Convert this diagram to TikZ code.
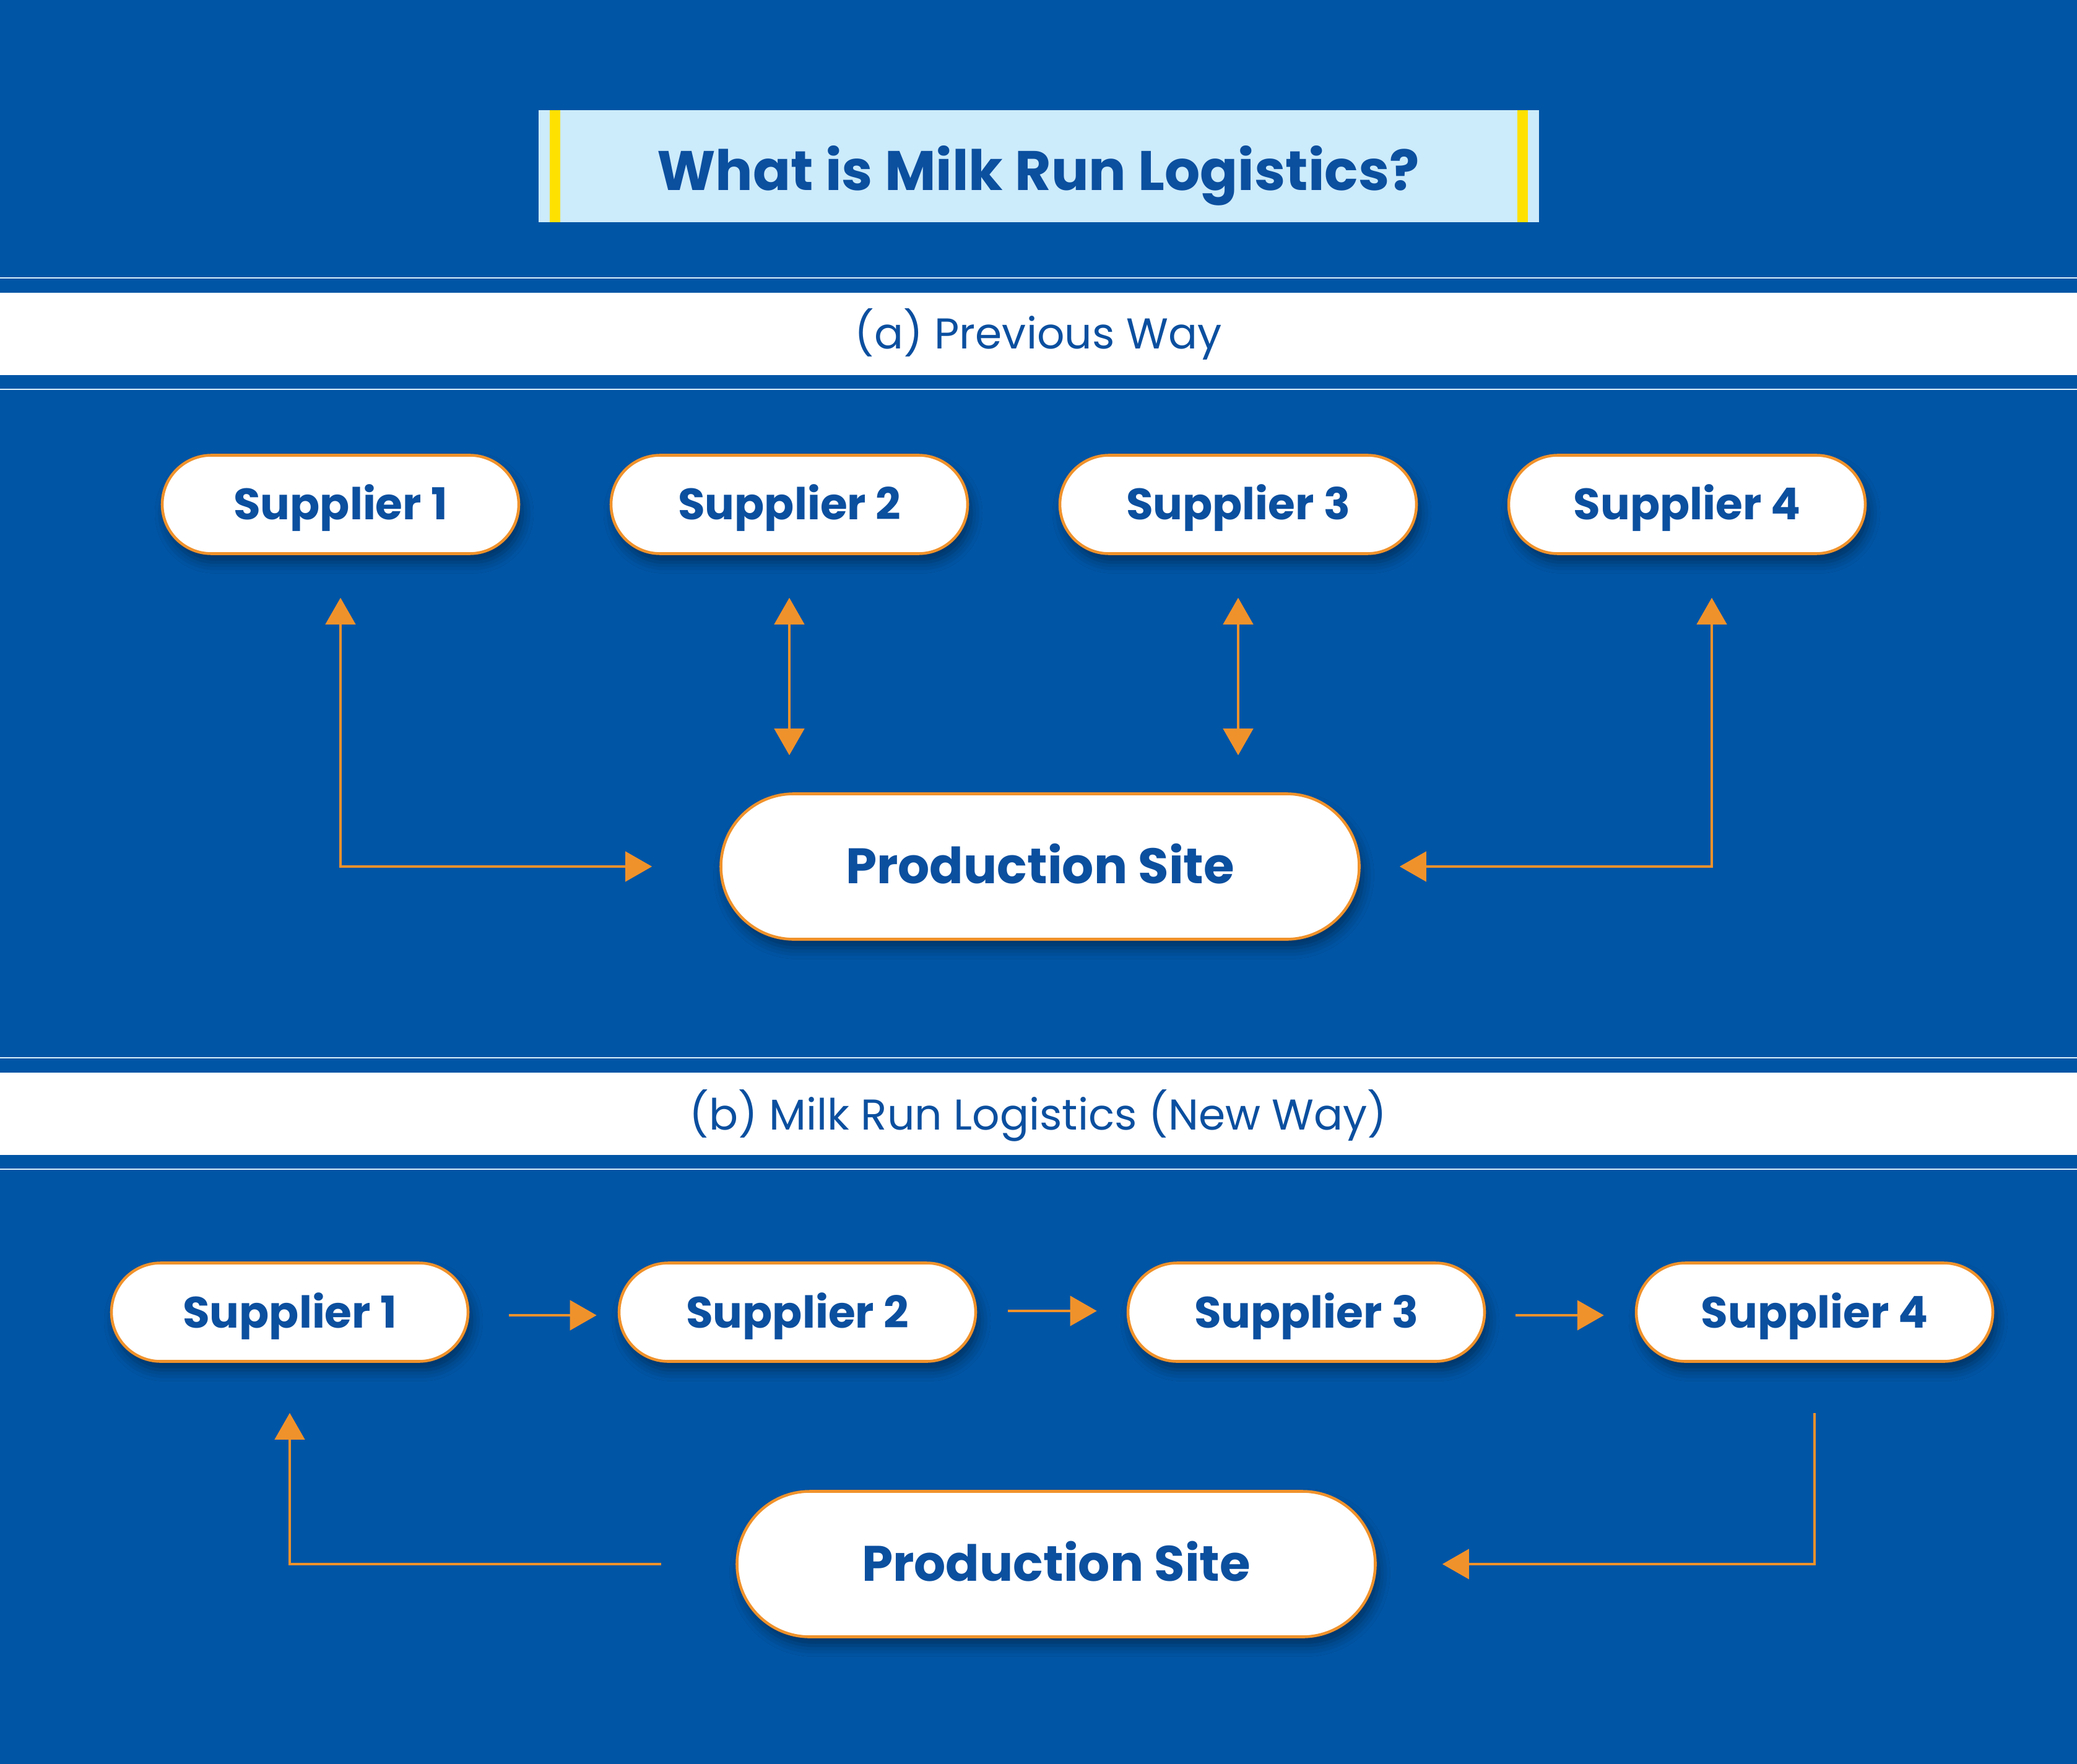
\documentclass[tikz,border=0pt]{standalone}
\usepackage{fontspec}
\setmainfont{Poppins}
\usetikzlibrary{shapes.misc,arrows.meta,shadows.blur,calc}
\definecolor{bgblue}{HTML}{0155A5}
\definecolor{txtblue}{HTML}{0B4F9F}
\definecolor{orng}{HTML}{F0922B}
\definecolor{titlefill}{HTML}{CCEBFB}
\definecolor{accentyellow}{RGB}{255,225,0}
\definecolor{thinline}{HTML}{DCEFFB}
\tikzset{
  pill/.style={rounded rectangle, draw=orng, line width=1.3pt, fill=white,
    text=txtblue, inner sep=0pt, text depth=0pt,
    blur shadow={shadow xshift=0.06cm, shadow yshift=-0.14cm, shadow blur radius=0.18cm, shadow opacity=40}},
  supp/.style={pill, minimum width=5.76cm, minimum height=1.59cm, text height=0.50cm,
    font=\fontsize{20.2}{24}\selectfont\bfseries},
  prod/.style={pill, minimum width=10.31cm, minimum height=2.35cm, text height=0.55cm,
    font=\fontsize{22.9}{27}\selectfont\bfseries},
  arr/.style={draw=orng, line width=1.3pt, -{Triangle[length=0.43cm, width=0.48cm]}},
  darr/.style={draw=orng, line width=1.3pt, {Triangle[length=0.43cm, width=0.48cm]}-{Triangle[length=0.43cm, width=0.48cm]}},
  seclabel/.style={text=txtblue, font=\fontsize{19.8}{24}\selectfont, anchor=base},
}
\begin{document}
\begin{tikzpicture}
\useasboundingbox (0,0) rectangle (33.55,-28.50);
\fill[bgblue] (0,0) rectangle (33.55,-28.50);
% title
\fill[titlefill] (8.70,-1.78) rectangle (24.86,-3.59);
\fill[fill=accentyellow] (8.88,-1.78) rectangle (9.05,-3.59);
\fill[fill=accentyellow] (24.51,-1.78) rectangle (24.68,-3.59);
\node[text=txtblue, font=\fontsize{25.6}{30}\selectfont\bfseries, anchor=base] (title) at (16.77,-3.08) {What is Milk Run Logistics?};
% section (a) band
\draw[thinline, line width=0.6pt] (0,-4.49) -- (33.55,-4.49);
\fill[white] (0,-4.73) rectangle (33.55,-6.06);
\draw[thinline, line width=0.6pt] (0,-6.29) -- (33.55,-6.29);
\node[seclabel] (seca) at (16.77,-5.64) {(a) Previous Way};
% section (b) band
\draw[thinline, line width=0.6pt] (0,-17.09) -- (33.55,-17.09);
\fill[white] (0,-17.33) rectangle (33.55,-18.66);
\draw[thinline, line width=0.6pt] (0,-18.89) -- (33.55,-18.89);
\node[seclabel] (secb) at (16.77,-18.25) {(b) Milk Run Logistics (New Way)};
% (a) nodes
\node[supp] (s1a) at (5.50,-8.15) {Supplier 1};
\node[supp] (s2a) at (12.75,-8.15) {Supplier 2};
\node[supp] (s3a) at (20.00,-8.15) {Supplier 3};
\node[supp] (s4a) at (27.25,-8.15) {Supplier 4};
\node[prod] (psa) at (16.80,-14.00) {Production Site};
% (a) arrows
\draw[darr, shorten <=0.69cm, shorten >=1.09cm] (s1a.south) |- (psa.west);
\draw[darr, shorten <=0.69cm, shorten >=0.60cm] (s2a.south) -- (s2a.south |- psa.north);
\draw[darr, shorten <=0.69cm, shorten >=0.60cm] (s3a.south) -- (s3a.south |- psa.north);
\draw[darr, shorten <=0.69cm, shorten >=0.63cm] ([xshift=0.40cm]s4a.south) |- (psa.east);
% (b) nodes
\node[supp] (s1b) at (4.68,-21.20) {Supplier 1};
\node[supp] (s2b) at (12.88,-21.20) {Supplier 2};
\node[supp] (s3b) at (21.10,-21.20) {Supplier 3};
\node[supp] (s4b) at (29.31,-21.20) {Supplier 4};
\node[prod] (psb) at (17.06,-25.27) {Production Site};
% (b) arrows
\draw[arr, shorten <=0.64cm, shorten >=0.34cm] ([yshift=-0.05cm]s1b.east) -- ([yshift=-0.05cm]s2b.west);
\draw[arr, shorten <=0.50cm, shorten >=0.48cm] ([yshift=0.02cm]s2b.east) -- ([yshift=0.02cm]s3b.west);
\draw[arr, shorten <=0.48cm, shorten >=0.50cm] ([yshift=-0.05cm]s3b.east) -- ([yshift=-0.05cm]s4b.west);
\draw[arr, shorten <=1.20cm, shorten >=0.81cm] (psb.west) -| (s1b.south);
\draw[arr, shorten <=0.81cm, shorten >=1.06cm] (s4b.south) |- (psb.east);
\end{tikzpicture}
\end{document}
